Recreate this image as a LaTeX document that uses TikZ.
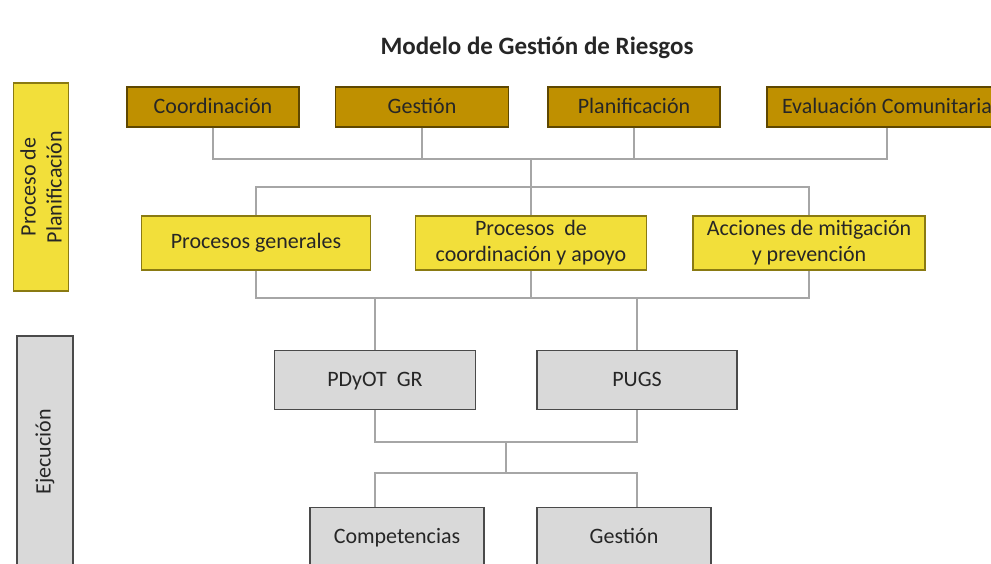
\documentclass[tikz,border=0pt]{standalone}
\usepackage{fontspec}
\setmainfont{Carlito}
\usepackage{xcolor}
\usetikzlibrary{positioning, calc}
\definecolor{ink}{HTML}{262626}
\definecolor{gold}{HTML}{BF9000}
\definecolor{golddark}{HTML}{5E4700}
\definecolor{lemon}{HTML}{F2DF3A}
\definecolor{lemondark}{HTML}{8A7A12}
\definecolor{greyfill}{HTML}{D9D9D9}
\definecolor{greydark}{HTML}{4A4A4A}
\definecolor{wire}{HTML}{A6A6A6}

\tikzset{
  boxbase/.style={rectangle, line width=1.4pt, text=ink, align=center,
                  font=\fontsize{22}{26}\selectfont, inner sep=2pt},
  oneline/.style={text height=14pt, text depth=1pt},
  topbox/.style={boxbase, oneline, draw=golddark, fill=gold, minimum height=40pt},
  midbox/.style={boxbase, draw=lemondark, fill=lemon, minimum height=54pt},
  exebox/.style={boxbase, oneline, draw=greydark, fill=greyfill, minimum height=59pt},
  sidebox/.style={boxbase, rotate=90},
  link/.style={draw=wire, line width=1.2pt}
}

\begin{document}
\begin{tikzpicture}[x=1pt, y=-1pt]
  \useasboundingbox (0,0) rectangle (991,563);
  \clip (0,0) rectangle (991,563);

  % Title
  \node[font=\fontsize{25}{29}\selectfont\bfseries, text=ink] (title) at (537,48) {Modelo de Gestión de Riesgos};

  % Side labels
  \node[sidebox, draw=lemondark, fill=lemon, minimum width=208pt, minimum height=55pt] (plan) at (41,187) {Proceso de\\Planificación};
  \node[sidebox, draw=greydark, fill=greyfill, minimum width=232pt, minimum height=56pt] (ejec) at (45,452) {Ejecución};

  % Top row
  \node[topbox, minimum width=172pt] (coor) at (213,107) {Coordinación};
  \node[topbox, minimum width=173pt] (gest) at (422,107) {Gestión};
  \node[topbox, minimum width=172pt] (planif) at (634,107) {Planificación};
  \node[topbox, minimum width=240pt] (eval) at (887,107) {Evaluación Comunitaria};

  % Middle row
  \node[midbox, minimum width=229pt] (gen) at (256,243) {Procesos generales};
  \node[midbox, minimum width=231pt] (coorap) at (531,243) {Procesos\ \ de\\coordinación y apoyo};
  \node[midbox, minimum width=232pt] (acc) at (809,243) {Acciones de mitigación\\y prevención};

  % Execution rows
  \node[exebox, minimum width=201pt] (pdyot) at (375,380) {PDyOT\ \ GR};
  \node[exebox, minimum width=200pt] (pugs) at (637,380) {PUGS};
  \node[exebox, minimum width=174pt] (comp) at (397,537) {Competencias};
  \node[exebox, minimum width=174pt] (gestb) at (624,537) {Gestión};

  % Joints
  \coordinate (topbar) at (531,159);
  \coordinate (midbar) at (531,187);
  \coordinate (lowbar) at (531,298);
  \coordinate (joinA) at (506,442);
  \coordinate (joinB) at (506,473);

  % Connectors
  \draw[link] (coor.south) |- (topbar) -| (eval.south);
  \draw[link] (gest.south) -- (gest.south |- topbar);
  \draw[link] (planif.south) -- (planif.south |- topbar);
  \draw[link] (topbar) -- (coorap.north);
  \draw[link] (gen.north) |- (midbar) -| (acc.north);
  \draw[link] (gen.south) |- (lowbar) -| (acc.south);
  \draw[link] (coorap.south) -- (lowbar);
  \draw[link] (pdyot.north) -- (pdyot.north |- lowbar);
  \draw[link] (pugs.north) -- (pugs.north |- lowbar);
  \draw[link] (pdyot.south) |- (joinA) -| (pugs.south);
  \draw[link] (joinA) -- (joinB);
  \draw[link] (comp.north -| pdyot.south) |- (joinB) -| (gestb.north -| pugs.south);
\end{tikzpicture}
\end{document}
